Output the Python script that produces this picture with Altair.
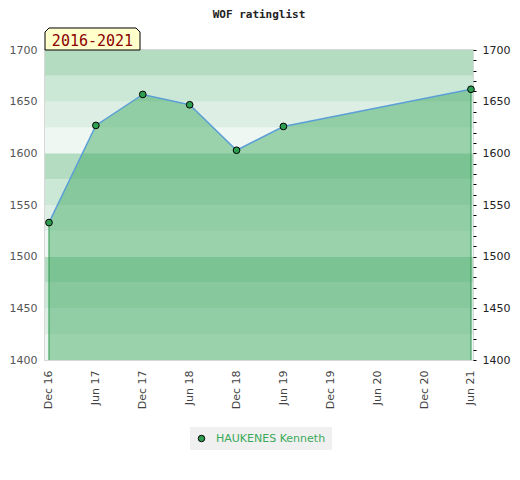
import altair as alt
import pandas as pd

# ---- data ----
tick_labels = ['Dec 16', 'Jun 17', 'Dec 17', 'Jun 18', 'Dec 18',
               'Jun 19', 'Dec 19', 'Jun 20', 'Dec 20', 'Jun 21']
periods = ['Dec 16', 'Jun 17', 'Dec 17', 'Jun 18', 'Dec 18', 'Jun 19', 'Jun 21']
ratings = [1533, 1627, 1657, 1647, 1603, 1626, 1662]
player = 'HAUKENES Kenneth'
period_range = '2016-2021'

band_lows = list(range(1400, 1700, 25))
band_shades = ['#eef7f2', '#ddeee4', '#cbe7d5', '#b3dcc1'] * 3

df = pd.DataFrame({
    'idx': [tick_labels.index(p) for p in periods],
    'period': periods,
    'rating': ratings,
    'player': [player] * len(periods),
    'base': [1400] * len(periods),
})
bands = pd.DataFrame({'lo': band_lows, 'hi': [b + 25 for b in band_lows],
                      'shade': band_shades})
ends = df.iloc[[0, -1]]

W, H = 428, 310
yscale = alt.Scale(domain=[1400, 1700], zero=False, nice=False)
xscale = alt.Scale(domain=[-0.085, 9.043], nice=False, zero=False)
label_js = "[" + ",".join("'%s'" % t for t in tick_labels) + "][datum.value]"

xaxis = alt.Axis(values=list(range(len(tick_labels))), labelExpr=label_js,
                 labelAngle=270, ticks=False, domain=False, grid=False,
                 labelPadding=10, labelColor='#444', labelFontSize=11,
                 title=None, labelFont='DejaVu Sans')

left_axis = alt.Axis(orient='left', values=list(range(1400, 1701, 50)),
                     format='d', ticks=False, domain=False, grid=False,
                     labelPadding=8, labelColor='#555', labelFontSize=11,
                     title=None, labelFont='DejaVu Sans')
right_axis = alt.Axis(orient='right', values=list(range(1400, 1701, 10)),
                      format='d',
                      labelExpr="datum.value % 50 == 0 ? datum.label : ''",
                      labelOverlap=False, tickSize=3, tickColor='#000',
                      domain=False, grid=False, labelPadding=6,
                      labelColor='#222', labelFontSize=11, title=None,
                      labelFont='DejaVu Sans')

band_layer = alt.Chart(bands).mark_rect().encode(
    x=alt.value(0), x2=alt.value(W),
    y=alt.Y('lo:Q', scale=yscale, axis=left_axis),
    y2='hi:Q',
    color=alt.Color('shade:N', scale=None, legend=None),
)

area = alt.Chart(df).mark_area(color='#3ba85d', opacity=0.47).encode(
    x=alt.X('idx:Q', scale=xscale, axis=xaxis),
    y=alt.Y('rating:Q', scale=yscale, axis=right_axis),
    y2='base:Q',
)

edges = alt.Chart(ends).mark_rule(color='#2f9650', strokeWidth=1).encode(
    x=alt.X('idx:Q', scale=xscale, axis=xaxis),
    y=alt.Y('rating:Q', scale=yscale, axis=None),
    y2='base:Q',
)

line = alt.Chart(df).mark_line(color='#5b9fd6', strokeWidth=1.5).encode(
    x=alt.X('idx:Q', scale=xscale, axis=xaxis),
    y=alt.Y('rating:Q', scale=yscale, axis=None),
)

points = alt.Chart(df).mark_point(filled=True, opacity=1, size=45,
                                  stroke='#000', strokeWidth=1).encode(
    x=alt.X('idx:Q', scale=xscale, axis=xaxis),
    y=alt.Y('rating:Q', scale=yscale, axis=None),
    fill=alt.Fill('player:N', scale=alt.Scale(range=['#2e9e50']),
                  legend=alt.Legend(orient='none', legendX=145, legendY=377,
                                    title=None, fillColor='#f0f0f0', padding=6,
                                    symbolType='circle', symbolSize=42,
                                    symbolStrokeColor='#000', symbolStrokeWidth=1,
                                    labelColor='#3aaa5a', labelFontSize=11,
                                    labelFont='DejaVu Sans', labelOffset=9)),
)

badge_df = pd.DataFrame({'txt': [period_range]})
badge_path = ("M -1 0.2316 L -1 -0.1474 L -0.9158 -0.2316 L 0.9158 -0.2316 "
              "L 1 -0.1474 L 1 0.2316 Z")
badge = alt.Chart(badge_df).mark_point(
    shape=badge_path, size=9025, filled=True, fill='#ffffcc', opacity=1,
    stroke='#000', strokeWidth=1, clip=False,
).encode(x=alt.value(47.5), y=alt.value(-11))
badge_text = alt.Chart(badge_df).mark_text(
    font='DejaVu Sans Mono', fontSize=15, color='#8b0000', clip=False,
    align='center', baseline='middle',
).encode(x=alt.value(47.5), y=alt.value(-9), text='txt:N')

chart = alt.layer(band_layer, area, edges, line, points, badge, badge_text).resolve_axis(
    y='independent'
).properties(
    width=W, height=H,
    title=alt.TitleParams('WOF ratinglist', font='DejaVu Sans Mono', fontSize=11,
                          fontWeight='bold', color='#222', anchor='middle',
                          frame='group', offset=6),
    autosize=alt.AutoSizeParams(type='none'),
    padding={'left': 37, 'top': 42, 'right': 39, 'bottom': 110},
).configure_view(stroke='#cccccc', strokeWidth=1.5)

chart.save("out.html", embed_options={"renderer": "svg", "actions": False})
